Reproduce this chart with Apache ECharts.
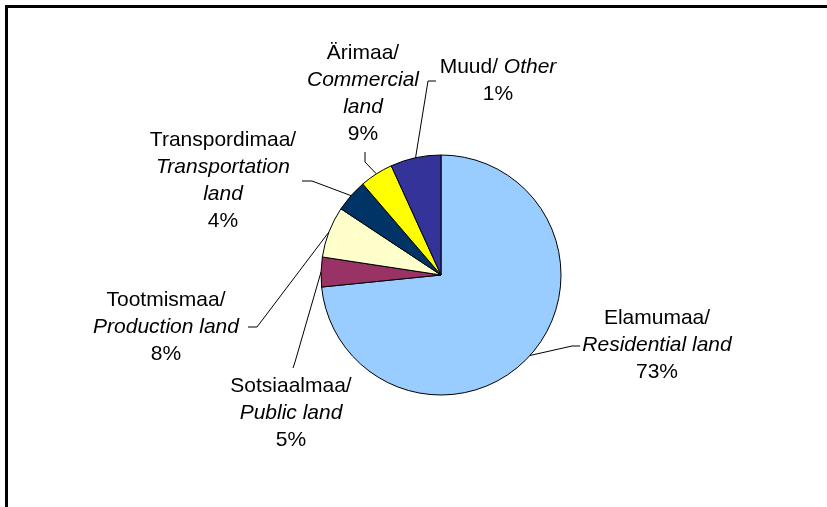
<!DOCTYPE html>
<html>
<head>
<meta charset="utf-8">
<script src="https://cdn.jsdelivr.net/npm/echarts@6/dist/echarts.min.js"></script>
<style>
html,body{margin:0;padding:0;background:#fff;}
#c{width:827px;height:507px;}
</style>
</head>
<body>
<div id="c"></div>
<script>
// Data
var namesEt = ['Elamumaa/', 'Sotsiaalmaa/', 'Tootmismaa/', 'Transpordimaa/', 'Ärimaa/', 'Muud/ '];
var namesEn = ['Residential land', 'Public land', 'Production land', 'Transportation\nland', 'Commercial\nland', 'Other'];
var values = [73.4, 4.0, 6.9, 4.4, 4.5, 6.8];
var pctLabels = ['73%', '5%', '8%', '4%', '9%', '1%'];
var sliceColors = ['#99CCFF', '#993366', '#FFFFCC', '#003366', '#FFFF00', '#333399'];

// Label layout (positions of label blocks and leader lines, px)
var labelLayouts = [
  {x: 657, y: 345, bend: [572, 346], end: [580, 346]},
  {x: 291, y: 413, bend: [295, 362], end: [293, 368]},
  {x: 166, y: 327, bend: [257, 327], end: [248, 327]},
  {x: 223, y: 181, bend: [312, 181], end: [302, 181]},
  {x: 363, y: 94,  bend: [365, 162], end: [365, 152]},
  {x: 498, y: 81,  bend: [428, 81],  end: [436, 81]}
];

function labelText(i) {
  var et = namesEt[i];
  var enLines = namesEn[i].split('\n');
  var parts;
  if (i === 5) {
    parts = ['{n|' + et + '}{i|' + enLines[0] + '}'];
  } else {
    parts = ['{n|' + et + '}'];
    enLines.forEach(function (l) { parts.push('{i|' + l + '}'); });
  }
  parts.push('{n|' + pctLabels[i] + '}');
  return parts.join('\n');
}

var data = values.map(function (v, i) {
  return { value: v, name: namesEt[i] + namesEn[i], itemStyle: { color: sliceColors[i] } };
});

var chart = echarts.init(document.getElementById('c'), null, { renderer: 'canvas' });
chart.setOption({
  animation: false,
  backgroundColor: '#ffffff',
  graphic: [{
    type: 'rect',
    shape: { x: 6.5, y: 6.5, width: 900, height: 600 },
    style: { fill: 'none', stroke: '#000', lineWidth: 3 },
    silent: true
  }],
  series: [{
    type: 'pie',
    center: [441, 275],
    radius: 120,
    startAngle: 90,
    clockwise: true,
    avoidLabelOverlap: false,
    itemStyle: { borderColor: '#000', borderWidth: 1 },
    label: {
      show: true,
      position: 'outside',
      align: 'center',
      formatter: function (p) { return labelText(p.dataIndex); },
      rich: {
        n: { fontFamily: 'Liberation Sans, Arial, sans-serif', fontSize: 21, color: '#000', lineHeight: 27, align: 'center' },
        i: { fontFamily: 'Liberation Sans, Arial, sans-serif', fontSize: 21, fontStyle: 'italic', color: '#000', lineHeight: 27, align: 'center' }
      }
    },
    labelLine: {
      show: true,
      length: 10,
      length2: 10,
      smooth: false,
      lineStyle: { color: '#000', width: 1 }
    },
    labelLayout: function (params) {
      var L = labelLayouts[params.dataIndex];
      var p0 = params.labelLinePoints ? params.labelLinePoints[0] : L.bend;
      return {
        x: L.x,
        y: L.y,
        align: 'center',
        verticalAlign: 'middle',
        labelLinePoints: [p0, L.bend, L.end]
      };
    },
    emphasis: { disabled: true },
    data: data
  }]
});
</script>
</body>
</html>
